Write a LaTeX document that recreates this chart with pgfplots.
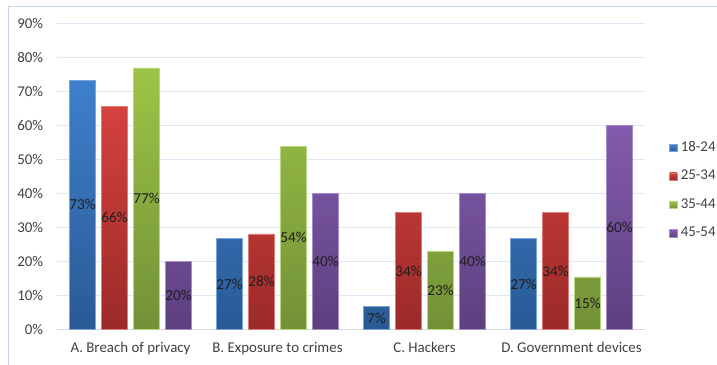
\documentclass[border=0pt]{standalone}
\usepackage{fontspec}
\setmainfont{Carlito}
\usepackage{pgfplots}
\pgfplotsset{compat=1.18}
\definecolor{blueT}{RGB}{62,128,204}
\definecolor{blueB}{RGB}{42,90,150}
\definecolor{redT}{RGB}{212,66,62}
\definecolor{redB}{RGB}{155,42,40}
\definecolor{greenT}{RGB}{157,196,70}
\definecolor{greenB}{RGB}{114,145,55}
\definecolor{purpT}{RGB}{130,91,172}
\definecolor{purpB}{RGB}{93,64,128}
\definecolor{framec}{RGB}{200,214,234}
\definecolor{gridc}{RGB}{222,231,243}
\definecolor{axisc}{RGB}{215,220,228}
\definecolor{tickc}{RGB}{64,64,64}
\definecolor{labc}{RGB}{30,30,30}
\begin{document}
\begin{tikzpicture}
\useasboundingbox (-57bp,-35.7bp) rectangle (660bp,329.3bp);
\draw[framec, line width=0.9bp] (-49bp,-80bp) rectangle (740bp,323.3bp);
\begin{axis}[
  x=147bp, y=3.4bp,
  xmin=-0.5, xmax=3.5, ymin=0, ymax=90,
  ybar=6bp, bar width=26bp,
  axis line style={draw=none},
  major tick length=0pt,
  ymajorgrids, grid style={gridc, line width=0.8bp},
  ytick={10,20,...,90},
  yticklabel={\pgfmathparse{int(\tick)}\pgfmathresult\%},
  extra y ticks={0},
  extra y tick labels={0\%},
  extra y tick style={grid style={axisc, line width=0.9bp}},
  xtick={0,1,2,3},
  xticklabels={A. Breach of privacy, B. Exposure to crimes, C. Hackers, D. Government devices},
  tick label style={font=\fontsize{14.9bp}{17bp}\selectfont, text=tickc},
  yticklabel style={anchor=east, inner sep=0pt, xshift=-13.7bp},
  xticklabel style={anchor=base, inner sep=0pt, yshift=-23.4bp},
  nodes near coords={\pgfmathprintnumber[fixed,precision=0,assume math mode=true]{\pgfplotspointmeta}\%},
  visualization depends on=y \as \rawy,
  every node near coord/.append style={anchor=center, font=\fontsize{15.2bp}{17bp}\selectfont, text=labc, inner sep=0pt, yshift=-\rawy*1.7bp},
  legend cell align=left,
  legend style={at={(1.0413,0.453)}, anchor=west, draw=none, fill=none, inner sep=0pt,
    row sep=15.9bp, font=\fontsize{14.9bp}{17bp}\selectfont, text=tickc,
    nodes={inner sep=0pt, text height=9.5bp, text depth=3bp},
    /tikz/every odd column/.append style={column sep=3.5bp}},
  legend image code/.code={\fill[#1] (0bp,-3.65bp) rectangle (7.3bp,3.65bp);},
]
\addplot[draw=blueT!70!white, line width=0.5bp, top color=blueT, bottom color=blueB] coordinates {(0,73.3) (1,26.7) (2,6.7) (3,26.7)};
\addplot[draw=redT!70!white, line width=0.5bp, top color=redT, bottom color=redB] coordinates {(0,65.6) (1,28.1) (2,34.3) (3,34.3)};
\addplot[draw=greenT!70!white, line width=0.5bp, top color=greenT, bottom color=greenB] coordinates {(0,76.9) (1,53.8) (2,23.0) (3,15.4)};
\addplot[draw=purpT!70!white, line width=0.5bp, top color=purpT, bottom color=purpB] coordinates {(0,20.0) (1,40.0) (2,40.0) (3,60.0)};
\legend{18-24,25-34,35-44,45-54}
\end{axis}
\end{tikzpicture}
\end{document}
